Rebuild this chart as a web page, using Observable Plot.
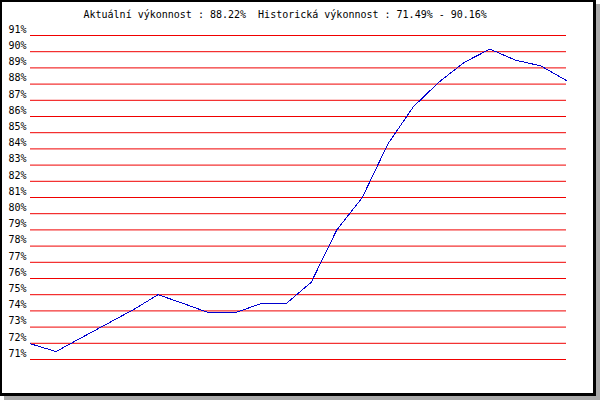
<!DOCTYPE html>
<html>
<head>
<meta charset="utf-8">
<script src="https://cdn.jsdelivr.net/npm/d3@7"></script>
<script src="https://cdn.jsdelivr.net/npm/@observablehq/plot@0.6"></script>
<style>
  html, body { margin: 0; padding: 0; background: #fff; }
  #wrap { position: relative; width: 600px; height: 400px; overflow: hidden; background: #fff; }
  #wrap svg { position: absolute; left: 0; top: 0; }
  #frame {
    position: absolute; left: 0; top: 0; width: 596px; height: 396px; box-sizing: border-box;
    border-left: 2px solid #000; border-top: 2px solid #000;
    border-right: 3px solid #000; border-bottom: 3px solid #000;
    box-shadow: 4px 4px 0 #a9a9a9; pointer-events: none;
  }
</style>
</head>
<body>
<div id="wrap"><div id="frame"></div></div>
<script>
const titleText = "Aktuální výkonnost : 88.22%  Historická výkonnost : 71.49% - 90.16%";
const ticks = [71, 72, 73, 74, 75, 76, 77, 78, 79, 80, 81, 82, 83, 84, 85, 86, 87, 88, 89, 90, 91];
const steps = [0, 1, 2, 3, 4, 5, 6, 7, 8, 9, 10, 11, 12, 13, 14, 15, 16, 17, 18, 19, 20, 21];
const values = [71.97, 71.49, 72.35, 73.2, 74.05, 75.0, 74.45, 73.88, 73.88, 74.43, 74.43, 75.77, 79.0, 81.0, 84.3, 86.6, 88.12, 89.35, 90.16, 89.48, 89.12, 88.22];

const data = steps.map((s, i) => ({step: s, value: values[i]}));

const chart = Plot.plot({
  width: 600,
  height: 400,
  marginTop: 35,
  marginBottom: 41,
  marginLeft: 30,
  marginRight: 34,
  style: {fontFamily: "'DejaVu Sans Mono', monospace", fontSize: "10px", color: "#000", background: "transparent"},
  x: {domain: [0, 21], axis: null},
  y: {domain: [71, 91], axis: null},
  marks: [
    Plot.ruleY(ticks, {stroke: "#f00000", strokeWidth: 1}),
    Plot.text(ticks, {x: 0, y: d => d, text: d => d + "%", textAnchor: "end", dx: -4, dy: -6, fill: "#000"}),
    Plot.line(data, {x: "step", y: "value", stroke: "#0000d0", strokeWidth: 1, shapeRendering: "crispEdges"}),
    Plot.text([titleText], {frameAnchor: "top-left", text: d => d, textAnchor: "start", lineAnchor: "middle", dx: 53, dy: -21, fill: "#000"})
  ]
});
const wrap = document.getElementById("wrap");
wrap.insertBefore(chart, wrap.firstChild);
</script>
</body>
</html>
